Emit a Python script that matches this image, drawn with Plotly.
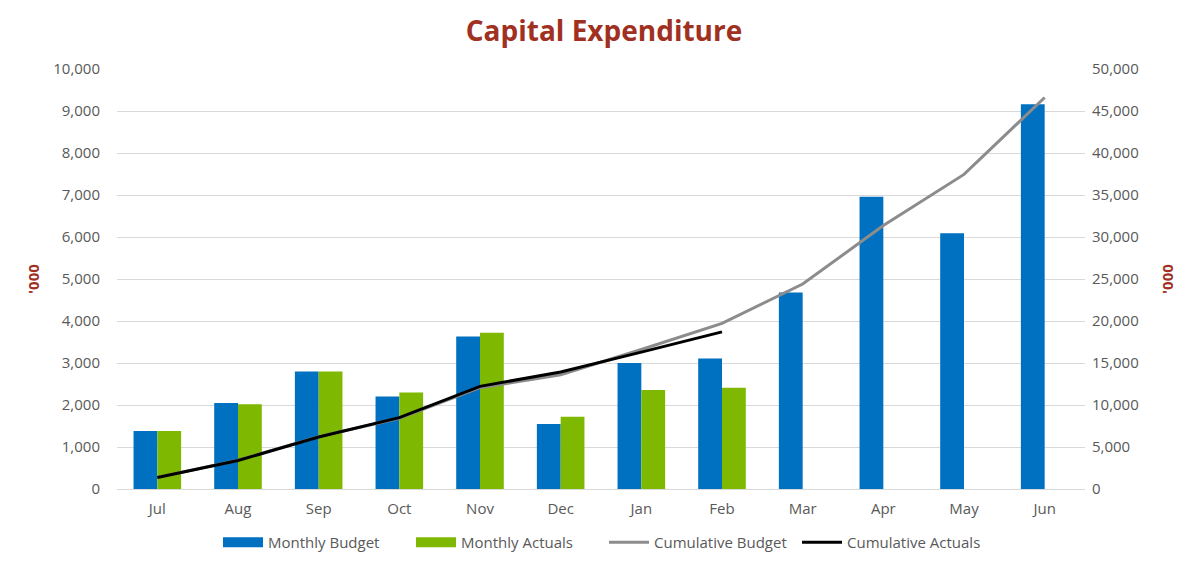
import plotly.graph_objects as go

months = ["Jul", "Aug", "Sep", "Oct", "Nov", "Dec", "Jan", "Feb", "Mar", "Apr", "May", "Jun"]
monthly_budget = [1380, 2050, 2800, 2200, 3630, 1550, 3000, 3110, 4680, 6960, 6090, 9160]
monthly_actuals = [1380, 2015, 2800, 2300, 3720, 1720, 2360, 2410, None, None, None, None]
cumulative_budget = [1380, 3430, 6230, 8430, 12060, 13610, 16610, 19720, 24400, 31360, 37450, 46610]
cumulative_actuals = [1380, 3395, 6195, 8495, 12215, 13935, 16295, 18705, None, None, None, None]
left_ticks = list(range(0, 10001, 1000))
right_ticks = list(range(0, 50001, 5000))

FONT = "Open Sans"
GRAY = "#595959"
RED = "#A0301F"
BLUE = "#0070C0"
GREEN = "#7FB800"

fig = go.Figure()
fig.add_trace(go.Bar(x=months, y=monthly_budget, name="Monthly Budget", showlegend=False,
                     marker=dict(color=BLUE, line=dict(width=0))))
fig.add_trace(go.Bar(x=months, y=monthly_actuals, name="Monthly Actuals", showlegend=False,
                     marker=dict(color=GREEN, line=dict(width=0))))
fig.add_trace(go.Scatter(x=months, y=cumulative_budget, name="Cumulative Budget", yaxis="y2",
                         mode="lines", line=dict(color="#8C8C8C", width=3), legendrank=3))
fig.add_trace(go.Scatter(x=months, y=cumulative_actuals, name="Cumulative Actuals", yaxis="y2",
                         mode="lines", line=dict(color="#000000", width=3), legendrank=4))
# legend proxies (wide rectangles like the original legend)
fig.add_trace(go.Scatter(x=[None], y=[None], name="Monthly Budget", mode="lines",
                         line=dict(color=BLUE, width=10), legendrank=1))
fig.add_trace(go.Scatter(x=[None], y=[None], name="Monthly Actuals", mode="lines",
                         line=dict(color=GREEN, width=10), legendrank=2))

fig.update_layout(
    width=1192, height=558,
    paper_bgcolor="white", plot_bgcolor="white",
    margin=dict(l=109, r=115, t=61, b=77, autoexpand=False),
    barmode="group", bargap=0.41, bargroupgap=0,
    font=dict(family=FONT, color=GRAY, size=15),
    title=dict(text="<b>Capital Expenditure</b>", x=0.5, xanchor="center", y=0.959, yanchor="middle",
               font=dict(family=FONT, size=28, color=RED)),
    xaxis=dict(type="category", range=[-0.5, 11.5], showgrid=False, showline=True,
               linecolor="#D9D9D9", linewidth=1, ticks="", ticklabelstandoff=6,
               tickfont=dict(size=15, color=GRAY)),
    yaxis=dict(range=[0, 10000], tickvals=left_ticks, tickformat=",", showgrid=True,
               gridcolor="#D9D9D9", gridwidth=1, zeroline=False, showline=False,
               ticks="", ticklabelstandoff=16, tickfont=dict(size=15, color=GRAY),
               title=dict(text="<b>'000</b>", font=dict(size=15, color=RED), standoff=9)),
    yaxis2=dict(range=[0, 50000], tickvals=right_ticks, tickformat=",", overlaying="y", side="right",
                showgrid=False, zeroline=False, showline=False, ticks="", ticklabelstandoff=6,
                tickfont=dict(size=15, color=GRAY),
                title=dict(text="<b>'000</b>", font=dict(size=15, color=RED), standoff=24)),
    legend=dict(orientation="h", x=0.5, xanchor="center", xref="container",
                y=0.042, yanchor="middle", yref="container",
                font=dict(size=15, color=GRAY), itemwidth=40, entrywidth=138),
)

fig.write_html("out.html")
